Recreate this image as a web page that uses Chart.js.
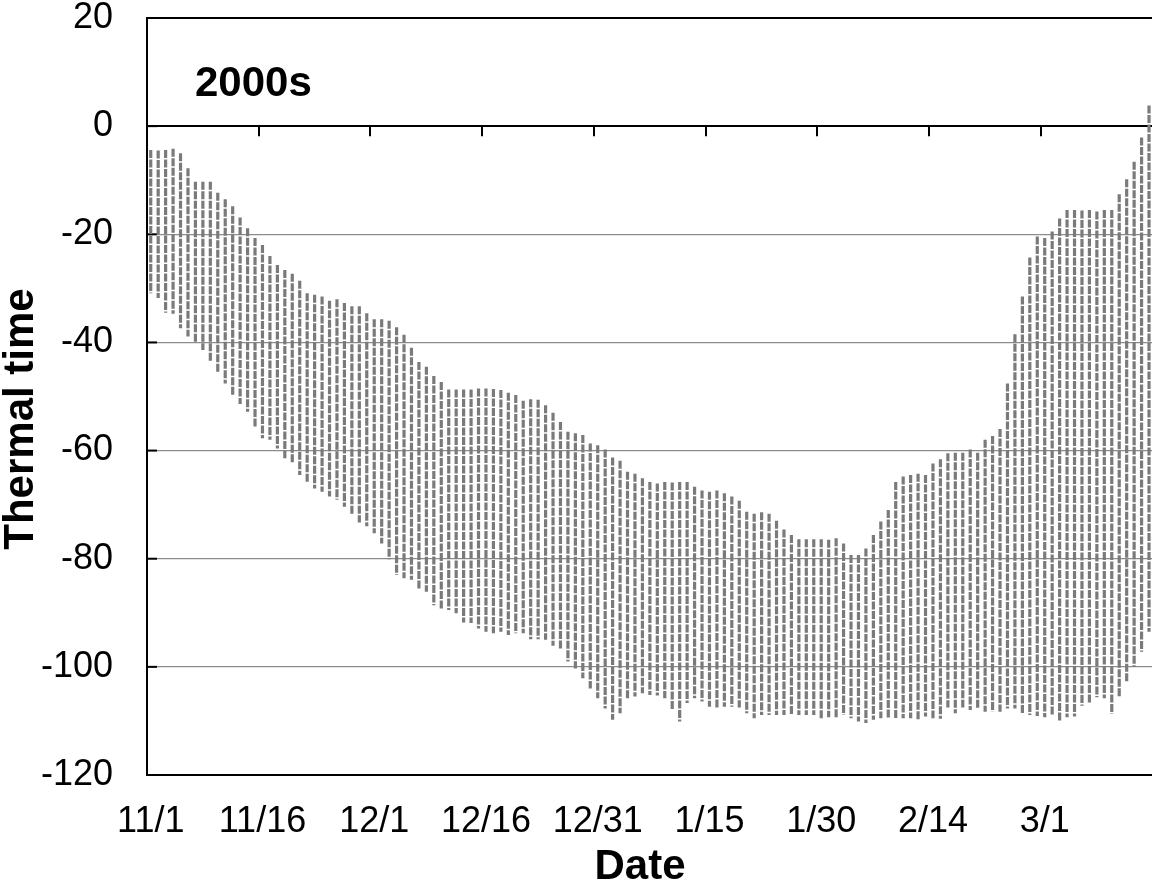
<!DOCTYPE html>
<html>
<head>
<meta charset="utf-8">
<script src="https://cdn.jsdelivr.net/npm/chart.js@4/dist/chart.umd.min.js"></script>
<style>
html,body{margin:0;padding:0;background:#fff;}
#wrap{width:1152px;height:887px;position:relative;}
</style>
</head>
<body>
<div id="wrap"><canvas id="c" width="1152" height="887"></canvas></div>
<script>
// Days since 11/1 where date labels are placed
const tickDays = [0, 15, 30, 45, 60, 75, 90, 105, 120];
const tickLabels = ['11/1', '11/16', '12/1', '12/16', '12/31', '1/15', '1/30', '2/14', '3/1'];

// Daily maximum of thermal time (top of each day's vertical trace), 11/1 .. 3/15
const dailyMax = [
  -4.4, -4.5, -4.4, -4.2, -5.0, -7.8, -10.3, -10.3, -10.3, -12.3,
  -13.5, -14.8, -16.9, -18.9, -20.7, -22.0, -24.0, -25.7, -26.6, -27.3,
  -28.6, -30.9, -31.2, -31.5, -32.3, -32.0, -32.7, -33.3, -33.3, -34.6,
  -35.7, -35.7, -36.0, -37.2, -38.6, -41.0, -43.6, -44.5, -46.2, -47.3,
  -48.7, -48.7, -48.7, -48.7, -48.5, -48.5, -48.6, -48.8, -49.3, -49.7,
  -50.8, -50.5, -50.6, -51.6, -53.0, -54.7, -56.5, -56.8, -57.1, -58.7,
  -59.0, -59.8, -61.3, -61.9, -63.9, -64.3, -65.1, -65.8, -66.1, -65.8,
  -65.9, -65.8, -65.8, -66.7, -67.4, -67.6, -67.4, -67.9, -68.5, -69.3,
  -71.3, -71.7, -71.4, -71.7, -73.0, -74.6, -75.6, -76.4, -76.4, -76.4,
  -76.4, -76.5, -76.2, -77.2, -79.3, -79.3, -78.1, -75.6, -73.1, -71.0,
  -65.8, -64.8, -64.5, -64.3, -64.5, -62.4, -61.6, -60.5, -60.4, -60.4,
  -59.8, -60.4, -58.0, -57.3, -56.0, -47.6, -38.5, -31.5, -24.3, -20.4,
  -20.7, -19.5, -17.1, -15.5, -15.5, -15.6, -15.5, -15.8, -15.5, -15.5,
  -12.6, -9.8, -6.6, -2.1, 3.8
];

// Daily minimum of thermal time (bottom of each day's vertical trace)
const dailyMin = [
  -30.9, -31.8, -34.5, -34.7, -37.4, -38.9, -40.0, -41.4, -43.6, -45.7,
  -47.6, -49.7, -51.4, -52.8, -55.6, -57.7, -58.0, -59.6, -61.4, -62.4,
  -64.5, -65.8, -67.0, -67.6, -68.5, -69.1, -70.4, -71.9, -73.3, -74.0,
  -75.3, -77.2, -80.1, -83.0, -83.6, -83.9, -85.5, -86.1, -88.6, -89.2,
  -89.5, -90.1, -91.8, -91.9, -92.9, -93.5, -93.8, -93.5, -94.1, -93.8,
  -93.8, -94.9, -94.9, -95.0, -96.1, -96.9, -99.0, -100.3, -102.1, -104.0,
  -105.8, -107.7, -109.8, -108.6, -106.1, -105.5, -104.9, -105.2, -105.3, -105.8,
  -107.9, -110.1, -106.7, -105.8, -106.4, -107.4, -107.7, -107.4, -107.4, -107.5,
  -108.6, -109.5, -108.9, -108.9, -108.9, -108.9, -108.9, -108.9, -108.9, -108.9,
  -109.8, -109.3, -109.5, -108.9, -109.5, -110.1, -110.4, -109.8, -109.5, -109.5,
  -109.5, -109.5, -109.5, -109.8, -109.2, -109.5, -109.6, -107.5, -108.6, -107.5,
  -108.0, -107.8, -108.3, -108.3, -108.3, -107.7, -107.7, -108.6, -108.9, -109.1,
  -109.3, -109.1, -110.1, -109.3, -109.2, -107.2, -106.6, -105.6, -105.8, -108.7,
  -105.5, -102.9, -100.0, -97.2, -93.5
];

const yMin = -120, yMax = 20, yStep = 20;
const panelLabel = '2000s';
const yTitle = 'Thermal time';
const xTitle = 'Date';

const FONT = '"Liberation Sans", Arial, Helvetica, sans-serif';

// Build one vertical trace per day (gap between days)
const tracePoints = [];
for (let d = 0; d < dailyMax.length; d++) {
  tracePoints.push({x: d, y: dailyMax[d]});
  tracePoints.push({x: d, y: dailyMin[d]});
  tracePoints.push({x: d, y: null});
}

const decorPlugin = {
  id: 'decor',
  beforeDatasetsDraw(chart) {
    const {ctx, chartArea, scales} = chart;
    const xs = scales.x, ys = scales.y;
    ctx.save();
    ctx.strokeStyle = '#000';
    ctx.lineWidth = 2;
    // inward y tick marks
    for (let v = yMin; v <= yMax; v += yStep) {
      const py = ys.getPixelForValue(v);
      ctx.beginPath();
      ctx.moveTo(chartArea.left, py);
      ctx.lineTo(chartArea.left + 10, py);
      ctx.stroke();
    }
    // tick marks on the zero line (category boundaries)
    const y0 = ys.getPixelForValue(0);
    for (let i = 1; i < tickDays.length; i++) {
      const px = Math.round(xs.getPixelForValue(tickDays[i] - 0.5));
      ctx.beginPath();
      ctx.moveTo(px, y0);
      ctx.lineTo(px, y0 + 10);
      ctx.stroke();
    }
    ctx.restore();
  },
  afterDraw(chart) {
    const {ctx} = chart;
    ctx.save();
    ctx.fillStyle = '#000';
    ctx.font = 'bold 42px ' + FONT;
    ctx.textBaseline = 'alphabetic';
    ctx.textAlign = 'left';
    ctx.fillText(panelLabel, 195, 96);
    ctx.textAlign = 'center';
    ctx.fillText(xTitle, 640, 879);
    ctx.translate(33, 419);
    ctx.rotate(-Math.PI / 2);
    ctx.fillText(yTitle, 0, 0);
    ctx.restore();
  }
};

new Chart(document.getElementById('c'), {
  type: 'line',
  data: {
    datasets: [{
      data: tracePoints,
      borderColor: '#7a7a7a',
      borderWidth: 3.2,
      borderDash: [8, 1.5],
      pointRadius: 0,
      spanGaps: false,
      tension: 0
    }]
  },
  options: {
    responsive: false,
    animation: false,
    devicePixelRatio: 1,
    layout: {padding: {top: 18, left: 0, right: 0, bottom: 0}},
    plugins: {legend: {display: false}, tooltip: {enabled: false}},
    scales: {
      x: {
        type: 'linear',
        min: -0.5,
        max: 134.4,
        afterFit(s) { s.height = 112; s.paddingLeft = 0; s.paddingRight = 0; },
        afterBuildTicks(s) { s.ticks = tickDays.map(v => ({value: v})); },
        grid: {display: false, drawTicks: false},
        border: {display: true, color: '#000', width: 2},
        ticks: {
          autoSkip: false,
          maxRotation: 0,
          padding: 25,
          color: '#000',
          font: {family: FONT, size: 36},
          callback: (v, i) => tickLabels[i]
        }
      },
      y: {
        min: yMin,
        max: yMax,
        afterFit(s) { s.width = 147; s.paddingTop = 0; s.paddingBottom = 0; },
        ticks: {
          stepSize: yStep,
          padding: 34,
          color: '#000',
          font: {family: FONT, size: 36}
        },
        grid: {
          drawTicks: false,
          color: c => (c.tick && (c.tick.value === 0 || c.tick.value === yMax || c.tick.value === yMin)) ? '#000' : '#8c8c8c',
          lineWidth: c => (c.tick && (c.tick.value === 0 || c.tick.value === yMax || c.tick.value === yMin)) ? 2 : 1.3
        },
        border: {display: true, color: '#000', width: 2}
      }
    }
  },
  plugins: [decorPlugin]
});
</script>
</body>
</html>
